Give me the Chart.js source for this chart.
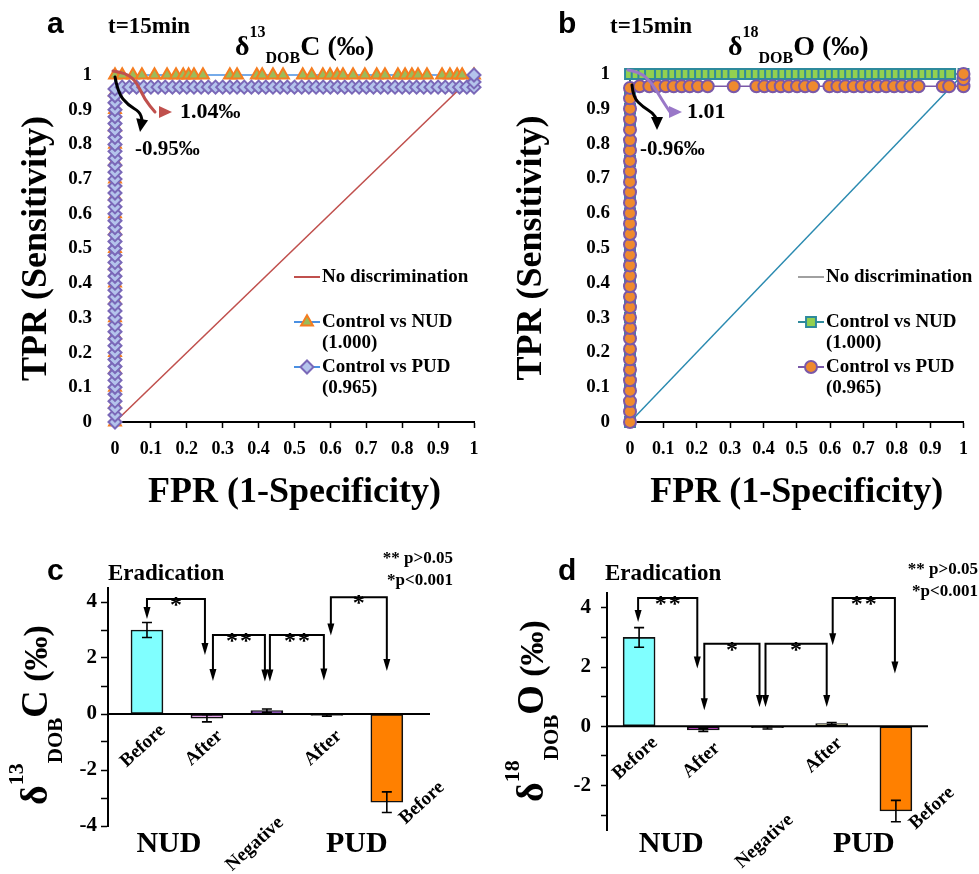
<!DOCTYPE html>
<html>
<head>
<meta charset="utf-8">
<script src="https://cdn.jsdelivr.net/npm/chart.js@4.4.1/dist/chart.umd.min.js"></script>
<style>
  body { margin: 0; background: #fff; }
  canvas { position: absolute; }
</style>
</head>
<body>
<canvas id="rocC" width="490" height="530" style="left:0;top:0"></canvas>
<canvas id="rocO" width="489" height="530" style="left:490px;top:0"></canvas>
<canvas id="barC" width="490" height="344" style="left:0;top:530px"></canvas>
<canvas id="barO" width="489" height="344" style="left:490px;top:530px"></canvas>
<script>
// ---------- ROC data ----------
// panel a (delta13C): Control vs NUD, triangles
const aNudVert = [0, 0.05, 0.1, 0.15, 0.2, 0.25, 0.3, 0.35, 0.4, 0.45, 0.5, 0.55, 0.6, 0.65, 0.7, 0.75, 0.8, 0.85, 0.9, 0.95, 1]; // TPR at FPR=0
const aNudTop = [0.02, 0.05, 0.075, 0.11, 0.145, 0.17, 0.19, 0.205, 0.22, 0.245, 0.32, 0.34, 0.395, 0.41, 0.44, 0.468, 0.523, 0.548,
  0.579, 0.599, 0.619, 0.635, 0.663, 0.696, 0.729, 0.752, 0.788, 0.808, 0.827, 0.844, 0.869, 0.911, 0.933, 0.953, 0.967, 1]; // FPR at TPR=1
// panel a: Control vs PUD, diamonds
const aPudVert = [0, 0.02, 0.04, 0.06, 0.08, 0.1, 0.12, 0.14, 0.16, 0.18, 0.2, 0.22, 0.24, 0.26, 0.28, 0.3, 0.32, 0.34, 0.36, 0.38,
  0.4, 0.42, 0.44, 0.46, 0.48, 0.5, 0.52, 0.54, 0.56, 0.58, 0.6, 0.62, 0.64, 0.66, 0.68, 0.7, 0.72, 0.74, 0.76, 0.78,
  0.8, 0.82, 0.84, 0.86, 0.88, 0.9, 0.92, 0.94, 0.96];
const aPudLevel = 0.965;
const aPudRow = [0.02, 0.04, 0.06, 0.08, 0.1, 0.12, 0.14, 0.16, 0.18, 0.2, 0.22, 0.24, 0.26, 0.28, 0.3, 0.32, 0.34, 0.36, 0.38,
  0.4, 0.42, 0.44, 0.46, 0.48, 0.5, 0.52, 0.54, 0.56, 0.58, 0.6, 0.62, 0.64, 0.66, 0.68, 0.7, 0.72, 0.74, 0.76, 0.78,
  0.8, 0.82, 0.84, 0.86, 0.88, 0.9, 0.92, 0.94, 0.96, 0.98];
const aPudEnd = [0.965, 0.98, 1]; // TPR at FPR=1

// panel b (delta18O): Control vs NUD, squares
const bNudVert = [0, 0.05, 0.1, 0.15, 0.2, 0.25, 0.3, 0.35, 0.4, 0.45, 0.5, 0.55, 0.6, 0.65, 0.7, 0.75, 0.8, 0.85, 0.9, 0.95, 1];
const bNudTop = [0.02, 0.04, 0.06, 0.09, 0.11, 0.13, 0.15, 0.17, 0.19, 0.21, 0.23, 0.25, 0.27, 0.29, 0.31, 0.34, 0.36, 0.38,
  0.4, 0.42, 0.44, 0.46, 0.48, 0.5, 0.52, 0.54, 0.56, 0.58, 0.6, 0.62, 0.64, 0.66, 0.68, 0.7, 0.72, 0.74, 0.76, 0.78,
  0.8, 0.82, 0.84, 0.86, 0.88, 0.9, 0.92, 0.94, 0.96, 1];
// panel b: Control vs PUD, circles
const bPudVert = [0, 0.03, 0.06, 0.09, 0.12, 0.15, 0.18, 0.21, 0.24, 0.27, 0.3, 0.33, 0.36, 0.39, 0.42, 0.45, 0.48, 0.51,
  0.54, 0.57, 0.6, 0.63, 0.66, 0.69, 0.72, 0.75, 0.78, 0.81, 0.84, 0.87, 0.9, 0.93, 0.96];
const bPudLevel = 0.965;
const bPudRow = [0.029, 0.058, 0.082, 0.107, 0.131, 0.155, 0.179, 0.204, 0.233, 0.311, 0.379, 0.403, 0.428, 0.452, 0.476,
  0.501, 0.525, 0.549, 0.598, 0.622, 0.646, 0.671, 0.695, 0.719, 0.743, 0.768, 0.792, 0.816, 0.841, 0.865, 0.938, 0.957];
const bPudEnd = [0.965, 0.985, 1];

const legendA = ['No discrimination', 'Control vs NUD', '(1.000)', 'Control vs PUD', '(0.965)'];

// ---------- bar data (eradication) ----------
const barLabels = ['Before', 'After', 'Negative', 'After', 'Before'];
const cVals = [3.0, -0.15, 0.12, -0.05, -3.15];
const cErr = [0.27, 0.13, 0.06, 0.03, 0.37];
const dVals = [3.0, -0.12, -0.05, 0.09, -2.86];
const dErr = [0.33, 0.05, 0.04, 0.04, 0.36];
const cTicks = [-4, -3, -2, -1, 0, 1, 2, 3, 4];
const dTicks = [-3, -2, -1, 0, 1, 2, 3, 4];

const SERIF = '"Liberation Serif", "Times New Roman", serif';
const SANS = '"Liberation Sans", Arial, sans-serif';
const bold = (s, fam) => `bold ${s}px ${fam || SERIF}`;

function text(ctx, s, x, y, size, align, fam, base) {
  ctx.font = bold(size, fam);
  ctx.textAlign = align || 'left';
  ctx.textBaseline = base || 'alphabetic';
  ctx.fillStyle = '#000';
  ctx.fillText(s, x, y);
}

// text with super/subscripts, optional rotation
function rich(ctx, parts, x, y, rot) {
  ctx.save();
  ctx.translate(x, y);
  ctx.rotate(rot || 0);
  ctx.textAlign = 'left';
  ctx.textBaseline = 'alphabetic';
  ctx.fillStyle = '#000';
  let cx = 0;
  parts.forEach(p => {
    ctx.font = bold(p.s);
    ctx.fillText(p.t, cx, p.dy || 0);
    cx += ctx.measureText(p.t).width;
  });
  ctx.restore();
}

function curvedArrow(ctx, ox, oy, pts, tip, color) {
  ctx.save();
  ctx.strokeStyle = color; ctx.fillStyle = color;
  ctx.lineWidth = 3; ctx.lineCap = 'round';
  const P = pts.map(p => [ox + p[0], oy + p[1]]);
  ctx.beginPath();
  ctx.moveTo(P[0][0], P[0][1]);
  for (let i = 1; i < P.length - 1; i++) {
    const mx = (P[i][0] + P[i + 1][0]) / 2, my = (P[i][1] + P[i + 1][1]) / 2;
    ctx.quadraticCurveTo(P[i][0], P[i][1], mx, my);
  }
  const last = P[P.length - 1];
  ctx.lineTo(last[0], last[1]);
  ctx.stroke();
  const tx = ox + tip[0], ty = oy + tip[1];
  const a = Math.atan2(ty - last[1], tx - last[0]);
  ctx.beginPath();
  ctx.moveTo(tx, ty);
  ctx.lineTo(tx - 13 * Math.cos(a) + 6 * Math.sin(a), ty - 13 * Math.sin(a) - 6 * Math.cos(a));
  ctx.lineTo(tx - 13 * Math.cos(a) - 6 * Math.sin(a), ty - 13 * Math.sin(a) + 6 * Math.cos(a));
  ctx.closePath();
  ctx.fill();
  ctx.restore();
}

function rocChart(id, o) {
  const vert = (arr, fpr) => arr.map(t => ({x: fpr, y: t}));
  const row = (arr, tpr) => arr.map(f => ({x: f, y: tpr}));
  const nudPts = vert(o.nudVert, 0).concat(row(o.nudTop, 1));
  const pudPts = vert(o.pudVert, 0).concat(row(o.pudRow, o.pudLevel), vert(o.pudEnd, 1));
  const ds = [
    {data: pudPts, order: 1, showLine: true, borderColor: o.pudLine, borderWidth: 1.5,
      pointStyle: o.pudStyle, pointRadius: o.pudR, backgroundColor: o.pudFill, pointBorderColor: o.pudEdge,
      pointBorderWidth: 2, clip: false},
    {data: nudPts, order: 2, showLine: true, borderColor: o.nudLine, borderWidth: 1.5,
      pointStyle: o.nudStyle, pointRadius: o.nudR, backgroundColor: o.nudFill, pointBorderColor: o.nudEdge,
      pointBorderWidth: 2, clip: false},
    {data: [{x: 0, y: 0}, {x: 1, y: 1}], order: 3, showLine: true, borderColor: o.diag, borderWidth: 1.5, pointRadius: 0}
  ];
  const decor = {
    id: 'rocDecor',
    afterDraw(chart) {
      const ctx = chart.ctx;
      const {x, y} = chart.scales;
      ctx.save();
      text(ctx, o.letter, o.letterX, 33, 30, 'left', SANS);
      text(ctx, 't=15min', o.timeX, 33, 23);
      rich(ctx, o.title, o.titleX, 55);
      // annotations from the (0,1) corner
      const ax = x.getPixelForValue(0), ay = y.getPixelForValue(1);
      curvedArrow(ctx, ax, ay, o.upArrow, o.upTip, o.upColor);
      curvedArrow(ctx, ax, ay, o.dnArrow, o.dnTip, '#000');
      text(ctx, o.upText, ax + o.upTextAt[0], ay + o.upTextAt[1], 22, 'left', SERIF, 'middle');
      text(ctx, o.dnText, ax + o.dnTextAt[0], ay + o.dnTextAt[1], 21, 'left', SERIF, 'middle');
      // legend
      const lx = o.legX;
      const items = [
        {color: o.diagLegend, ty: 277, lines: [legendA[0]]},
        {color: o.nudLine, d: ds[1], ty: 322, lines: [legendA[1], legendA[2]]},
        {color: o.pudLine, d: ds[0], ty: 367, lines: [legendA[3], legendA[4]]}
      ];
      items.forEach(it => {
        ctx.strokeStyle = it.color; ctx.lineWidth = 2;
        ctx.beginPath(); ctx.moveTo(lx, it.ty); ctx.lineTo(lx + 26, it.ty); ctx.stroke();
        if (it.d) {
          ctx.fillStyle = it.d.backgroundColor; ctx.strokeStyle = it.d.pointBorderColor; ctx.lineWidth = 2;
          Chart.helpers.drawPoint(ctx, {pointStyle: it.d.pointStyle, radius: it.d.pointRadius, borderWidth: 2, rotation: 0}, lx + 13, it.ty);
        }
        it.lines.forEach((s, k) => text(ctx, s, lx + 28, it.ty + k * 21, 19, 'left', SERIF, 'middle'));
      });
      ctx.restore();
    }
  };
  return new Chart(document.getElementById(id), {
    type: 'scatter',
    data: {datasets: ds},
    options: {
      responsive: false, animation: false,
      layout: {padding: {left: 0, top: o.top, right: o.right, bottom: 0}},
      plugins: {legend: {display: false}, tooltip: {enabled: false}},
      scales: {
        x: {
          type: 'linear', min: 0, max: 1,
          afterFit: s => { s.height = 108; },
          ticks: {stepSize: 0.1, autoSkip: false, maxRotation: 0, padding: 11, color: '#000',
            font: {family: SERIF, size: 18, weight: 'bold'}, callback: v => Math.round(v * 10) / 10},
          grid: {drawOnChartArea: false, tickLength: 6, color: '#000', tickWidth: 1.5},
          border: {color: '#000', width: 2},
          title: {display: true, text: 'FPR (1-Specificity)', color: '#000', padding: {top: 0, bottom: 16},
            font: {family: SERIF, size: 36, weight: 'bold'}}
        },
        y: {
          min: 0, max: 1,
          afterFit: s => { s.width = o.left; },
          ticks: {stepSize: 0.1, autoSkip: false, padding: o.yPad, color: '#000',
            font: {family: SERIF, size: 19, weight: 'bold'}, callback: v => Math.round(v * 10) / 10},
          grid: {display: false, drawTicks: false},
          border: {color: '#000', width: 2},
          title: {display: true, text: 'TPR (Sensitivity)', color: '#000', padding: {top: o.yTitlePad, bottom: 0},
            font: {family: SERIF, size: 36, weight: 'bold'}}
        }
      }
    },
    plugins: [decor]
  });
}

rocChart('rocC', {
  nudVert: aNudVert, nudTop: aNudTop, pudVert: aPudVert, pudRow: aPudRow, pudLevel: aPudLevel, pudEnd: aPudEnd,
  nudStyle: 'triangle', nudR: 6.8, nudFill: '#9bbb59', nudEdge: '#f57d20', nudLine: '#4a90e2',
  pudStyle: 'rectRot', pudR: 6.5, pudFill: '#b4c4ec', pudEdge: '#7a68b8', pudLine: '#4a90e2',
  diag: '#c0504d', diagLegend: '#c0504d',
  top: 75, right: 16, left: 115, yPad: 23, yTitlePad: 15,
  letter: 'a', letterX: 47, timeX: 108,
  title: [{t: 'δ', s: 28}, {t: '13', s: 16, dy: -18}, {t: 'DOB', s: 16, dy: 8}, {t: 'C (‰)', s: 28}], titleX: 235,
  upArrow: [[-2, -4], [12, -2], [22, 8], [30, 25], [40, 37]], upTip: [57, 37], upColor: '#c0504d',
  dnArrow: [[0, 2], [3, 18], [13, 30], [25, 37], [27, 45]], dnTip: [25, 57],
  upText: '1.04‰', upTextAt: [65, 37], dnText: '-0.95‰', dnTextAt: [20, 75],
  legX: 294
});

rocChart('rocO', {
  nudVert: bNudVert, nudTop: bNudTop, pudVert: bPudVert, pudRow: bPudRow, pudLevel: bPudLevel, pudEnd: bPudEnd,
  nudStyle: 'rect', nudR: 7, nudFill: '#92d050', nudEdge: '#2e8a9c', nudLine: '#2e8a9c',
  pudStyle: 'circle', pudR: 6, pudFill: '#ef8a2e', pudEdge: '#7a58a8', pudLine: '#7a58a8',
  diag: '#2a8ab0', diagLegend: '#a0a0a0',
  top: 74, right: 6, left: 140, yPad: 20, yTitlePad: 20,
  letter: 'b', letterX: 68, timeX: 120,
  title: [{t: 'δ', s: 28}, {t: '18', s: 16, dy: -18}, {t: 'DOB', s: 16, dy: 8}, {t: 'O (‰)', s: 28}], titleX: 238,
  upArrow: [[-2, -4], [10, -2], [22, 9], [32, 26], [40, 38]], upTip: [52, 38], upColor: '#9a78c8',
  dnArrow: [[2, 11], [3, 23], [13, 33], [23, 39], [27, 46]], dnTip: [27, 56],
  upText: '1.01', upTextAt: [57, 38], dnText: '-0.96‰', dnTextAt: [10, 76],
  legX: 308
});

// ---------- bar panels ----------
function barChart(id, o) {
  const decor = {
    id: 'barDecor',
    afterDatasetsDraw(chart) {
      const {ctx, chartArea: ca} = chart;
      const {x, y} = chart.scales;
      const y0 = y.getPixelForValue(0);
      const cx = i => x.getPixelForValue(i);
      ctx.save();
      ctx.strokeStyle = '#000'; ctx.fillStyle = '#000';
      ctx.lineWidth = 2;
      ctx.beginPath(); ctx.moveTo(ca.left, y0); ctx.lineTo(ca.right, y0); ctx.stroke();
      // error bars
      ctx.lineWidth = 1.6;
      o.vals.forEach((v, i) => {
        const hi = y.getPixelForValue(v + o.err[i]), lo = y.getPixelForValue(v - o.err[i]), px = cx(i);
        ctx.beginPath();
        ctx.moveTo(px, hi); ctx.lineTo(px, lo);
        ctx.moveTo(px - 5, hi); ctx.lineTo(px + 5, hi);
        ctx.moveTo(px - 5, lo); ctx.lineTo(px + 5, lo);
        ctx.stroke();
      });
      // significance brackets with arrows
      o.sig.forEach(s => {
        const xa = cx(s.a) + s.da, xb = cx(s.b) + s.db, yt = y.getPixelForValue(s.top);
        const ya = y.getPixelForValue(s.ea), yb = y.getPixelForValue(s.eb);
        ctx.lineWidth = 2;
        ctx.beginPath();
        ctx.moveTo(xa, ya - 8); ctx.lineTo(xa, yt); ctx.lineTo(xb, yt); ctx.lineTo(xb, yb - 8);
        ctx.stroke();
        [[xa, ya], [xb, yb]].forEach(([px, py]) => {
          ctx.beginPath(); ctx.moveTo(px, py); ctx.lineTo(px - 3.5, py - 12); ctx.lineTo(px + 3.5, py - 12);
          ctx.closePath(); ctx.fill();
        });
        const mid = (xa + xb) / 2;
        if (s.mark === '**') {
          text(ctx, '*', mid - 7, yt + 13, 24, 'center');
          text(ctx, '*', mid + 7, yt + 13, 24, 'center');
        } else {
          text(ctx, '*', mid, yt + 13, 24, 'center');
        }
      });
      // rotated category labels
      barLabels.forEach((s, i) => {
        ctx.save();
        ctx.translate(cx(i) + o.lab[i][0], y0 + o.lab[i][1]);
        ctx.rotate(-0.74);
        text(ctx, s, 0, 0, 19, 'center', SERIF, 'middle');
        ctx.restore();
      });
      text(ctx, 'NUD', (cx(0) + cx(1)) / 2 + o.nudDx, 322, 30, 'center');
      text(ctx, 'PUD', (cx(3) + cx(4)) / 2, 322, 30, 'center');
      // header
      text(ctx, o.letter, o.letterX, 50, 30, 'left', SANS);
      text(ctx, 'Eradication', o.eradX, 50, 23);
      text(ctx, '** p>0.05', o.pX, o.pY[0], 17, 'right');
      text(ctx, '*p<0.001', o.pX, o.pY[1], 17, 'right');
      rich(ctx, o.ytitle, o.ytX, o.ytY, -Math.PI / 2);
      ctx.restore();
    }
  };
  return new Chart(document.getElementById(id), {
    type: 'bar',
    data: {
      datasets: [{
        data: o.vals.map((v, i) => ({x: i, y: v})),
        backgroundColor: o.colors, borderColor: '#111', borderWidth: 1.6, borderSkipped: false,
        barThickness: 32
      }]
    },
    options: {
      responsive: false, animation: false,
      layout: {padding: {left: 0, top: o.top, right: o.right, bottom: o.bottom}},
      plugins: {legend: {display: false}, tooltip: {enabled: false}},
      scales: {
        x: {type: 'linear', display: false, offset: false, min: o.xMin, max: o.xMax},
        y: {
          min: o.yMin, max: 4.5,
          afterFit: s => { s.width = o.left; },
          afterBuildTicks: s => { s.ticks = o.ticks.map(v => ({value: v})); },
          ticks: {padding: o.yPad, color: '#000',
            font: {family: SERIF, size: 21, weight: 'bold'}, callback: v => (v % 2 === 0 ? v : '')},
          grid: {drawOnChartArea: false, tickLength: o.tick, color: '#000', tickWidth: 1.5},
          border: {color: '#000', width: 2}
        }
      }
    },
    plugins: [decor]
  });
}

barChart('barC', {
  vals: cVals, err: cErr, ticks: cTicks,
  colors: ['#80ffff', '#e8a4ec', '#8a20e0', '#303030', '#ff8000'],
  top: 58, right: 60, bottom: 48, left: 108, yMin: -4, xMin: -0.65, xMax: 4.72, yPad: 4, tick: 7,
  sig: [
    {a: 0, b: 1, top: 4.11, ea: 3.39, eb: 2.11, da: 0, db: -2, mark: '*'},
    {a: 1, b: 2, top: 2.82, ea: 1.18, eb: 1.16, da: 6, db: -2, mark: '**'},
    {a: 2, b: 3, top: 2.82, ea: 1.16, eb: 1.2, da: 3, db: -3, mark: '**'},
    {a: 3, b: 4, top: 4.17, ea: 2.8, eb: 1.54, da: 4, db: 0, mark: '*'}
  ],
  lab: [[-4, 32], [-3, 34], [-12, 130], [-4, 34], [35, 89]], nudDx: -8,
  letter: 'c', letterX: 47, eradX: 108, pX: 453, pY: [33, 55],
  ytitle: [{t: 'δ', s: 38}, {t: '13', s: 22, dy: -24}, {t: 'DOB', s: 21, dy: 15}, {t: 'C', s: 38}, {t: ' (‰)', s: 34}],
  ytX: 47, ytY: 275
});

barChart('barO', {
  vals: dVals, err: dErr, ticks: dTicks,
  colors: ['#80ffff', '#a010a8', '#303030', '#c8c488', '#ff8000'],
  top: 63, right: 51, bottom: 44, left: 117, yMin: -3.5, xMin: -0.5, xMax: 4.5, yPad: 10, tick: 6,
  sig: [
    {a: 0, b: 1, top: 4.33, ea: 3.52, eb: 1.95, da: -1, db: -6, mark: '**'},
    {a: 1, b: 2, top: 2.79, ea: 0.54, eb: 0.65, da: 1, db: -8, mark: '*'},
    {a: 2, b: 3, top: 2.79, ea: 0.65, eb: 0.65, da: -2, db: -5, mark: '*'},
    {a: 3, b: 4, top: 4.33, ea: 2.74, eb: 1.78, da: 1, db: -1, mark: '**'}
  ],
  lab: [[-4, 32], [-2, 34], [-3, 115], [-8, 29], [36, 82]], nudDx: 0,
  letter: 'd', letterX: 68, eradX: 115, pX: 488, pY: [44, 66],
  ytitle: [{t: 'δ', s: 38}, {t: '18', s: 22, dy: -24}, {t: 'DOB', s: 21, dy: 15}, {t: 'O', s: 38}, {t: ' (‰)', s: 34}],
  ytX: 53, ytY: 272
});
</script>
</body>
</html>
